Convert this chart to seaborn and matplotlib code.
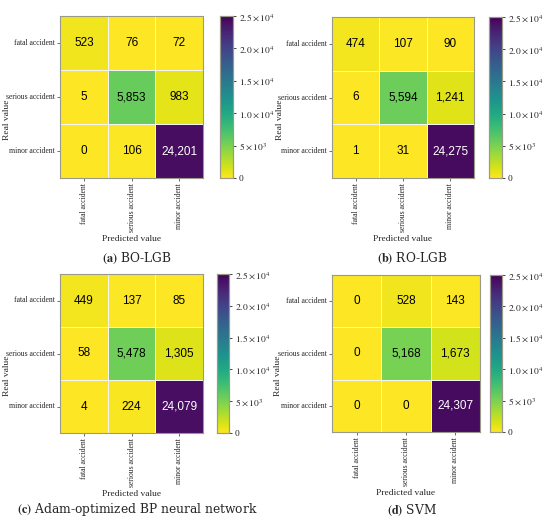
import numpy as np
import seaborn as sns
import matplotlib.pyplot as plt
from matplotlib.ticker import FixedLocator, FixedFormatter

# Confusion matrices (rows = real, cols = predicted)
classes = ['fatal accident', 'serious accident', 'minor accident']
bo_lgb = [[523, 76, 72], [5, 5853, 983], [0, 106, 24201]]
ro_lgb = [[474, 107, 90], [6, 5594, 1241], [1, 31, 24275]]
adam_bp = [[449, 137, 85], [58, 5478, 1305], [4, 224, 24079]]
svm = [[0, 528, 143], [0, 5168, 1673], [0, 0, 24307]]
captions = ['(a)', '(b)', '(c)', '(d)']
names = ['BO-LGB', 'RO-LGB', 'Adam-optimized BP neural network', 'SVM']
cbar_ticks = [0, 5000, 10000, 15000, 20000, 25000]
cbar_labels = ['0', r'$5\times10^{3}$', r'$1.0\times10^{4}$', r'$1.5\times10^{4}$',
               r'$2.0\times10^{4}$', r'$2.5\times10^{4}$']

sns.set_style('white')
plt.rcParams['font.family'] = ['Liberation Serif', 'DejaVu Serif']
plt.rcParams['mathtext.fontset'] = 'stix'

W, H = 550, 519
fig = plt.figure(figsize=(W / 100, H / 100), dpi=100)

def px_axes(x, y, w, h):
    # pixel box measured from top-left corner
    return fig.add_axes([x / W, (H - y - h) / H, w / W, h / H])

# heatmap box, colorbar box, caption position
boxes = [
    ((60, 16, 143, 162), (220, 16, 13, 162), (137, 258)),
    ((332, 17, 142, 161), (489, 17, 13, 161), (412, 258)),
    ((60, 274, 143, 159), (217, 274, 12, 159), (137, 510)),
    ((332, 275, 148, 157), (490, 275, 12, 157), (412, 510)),
]
matrices = [bo_lgb, ro_lgb, adam_bp, svm]

for mat, (hb, cb, cap), tag, name in zip(matrices, boxes, captions, names):
    ax = px_axes(*hb)
    cax = px_axes(*cb)
    sns.heatmap(np.array(mat), ax=ax, cbar_ax=cax, cmap='viridis_r', vmin=0, vmax=25000,
                annot=True, fmt=',d', linewidths=0.6, linecolor='#f4f4f4',
                xticklabels=classes, yticklabels=classes,
                annot_kws={'fontsize': 8.5, 'family': 'Liberation Sans'})
    # dark cells keep white text, the rest go pure black
    for t in ax.texts:
        if t.get_color() != 'w':
            t.set_color('black')
    for s in ax.spines.values():
        s.set_visible(True)
        s.set_color('#9a9a8a')
        s.set_linewidth(0.8)
    ax.tick_params(axis='both', length=2.5, width=0.6, color='#555555',
                   labelsize=5.5, pad=1, bottom=True, left=True)
    ax.set_xticklabels(classes, rotation=90)
    ax.set_yticklabels(classes, rotation=0)
    ax.set_xlabel('Predicted value', fontsize=6.8, labelpad=2)
    ax.set_ylabel('Real value', fontsize=6.8)
    ax.yaxis.set_label_coords(-0.34, 0.36)

    cax.yaxis.set_major_locator(FixedLocator(cbar_ticks))
    cax.yaxis.set_major_formatter(FixedFormatter(cbar_labels))
    cax.tick_params(labelsize=6.8, length=2, width=0.6, pad=2)
    for s in cax.spines.values():
        s.set_visible(True)
        s.set_color('#9a9a8a')
        s.set_linewidth(0.8)

    fig.text(cap[0] / W, 1 - cap[1] / H, r'$\mathbf{' + tag + '}$ ' + name,
             ha='center', va='center', fontsize=8.8, family='DejaVu Serif')

plt.savefig('out.png', dpi=100, facecolor='white')
